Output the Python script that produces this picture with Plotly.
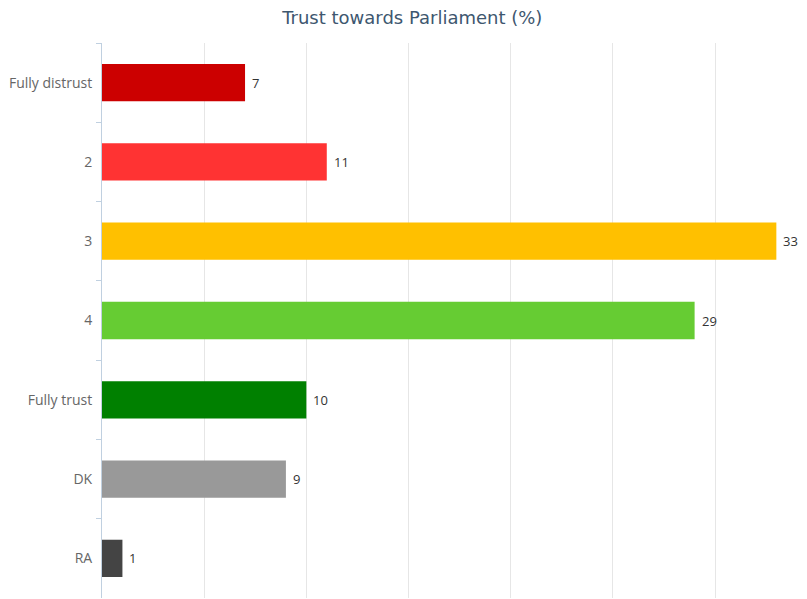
import plotly.graph_objects as go

categories = ["Fully distrust", "2", "3", "4", "Fully trust", "DK", "RA"]
values = [7, 11, 33, 29, 10, 9, 1]
colors = ["#cc0000", "#ff3333", "#ffc000", "#66cc33", "#008000", "#999999", "#444444"]

fig = go.Figure()
fig.add_trace(go.Bar(
    x=values, y=categories, orientation="h",
    marker=dict(color=colors, line=dict(width=0)),
    hoverinfo="x+y",
))

for i, v in enumerate(values):
    fig.add_annotation(x=v, y=i, text=str(v), showarrow=False,
                       xanchor="left", xshift=5,
                       font=dict(family="Open Sans, sans-serif", size=13, color="#333333"))

fig.update_layout(
    width=799, height=591,
    paper_bgcolor="white", plot_bgcolor="white",
    margin=dict(l=94, r=0, t=35, b=1, autoexpand=False),
    bargap=0.53,
    showlegend=False,
    title=dict(text="Trust towards Parliament (%)", x=0.506, xref="container", xanchor="center",
               y=0.983, yref="container", yanchor="middle",
               font=dict(family="DejaVu Sans, sans-serif", size=18, color="#3e576f")),
    xaxis=dict(range=[0, 34.5], dtick=5, showticklabels=False, showgrid=True,
               gridcolor="#e6e6e6", gridwidth=1, zeroline=False, showline=False, fixedrange=True),
    yaxis=dict(autorange="reversed", type="category", showline=True, linecolor="#c0d0e0",
               linewidth=1, ticks="outside", tickson="boundaries", ticklen=5,
               tickcolor="#c0d0e0", showgrid=False, automargin=False, ticklabelstandoff=6,
               tickfont=dict(family="Open Sans, sans-serif", size=14, color="#666666")),
)

fig.write_html("out.html")
